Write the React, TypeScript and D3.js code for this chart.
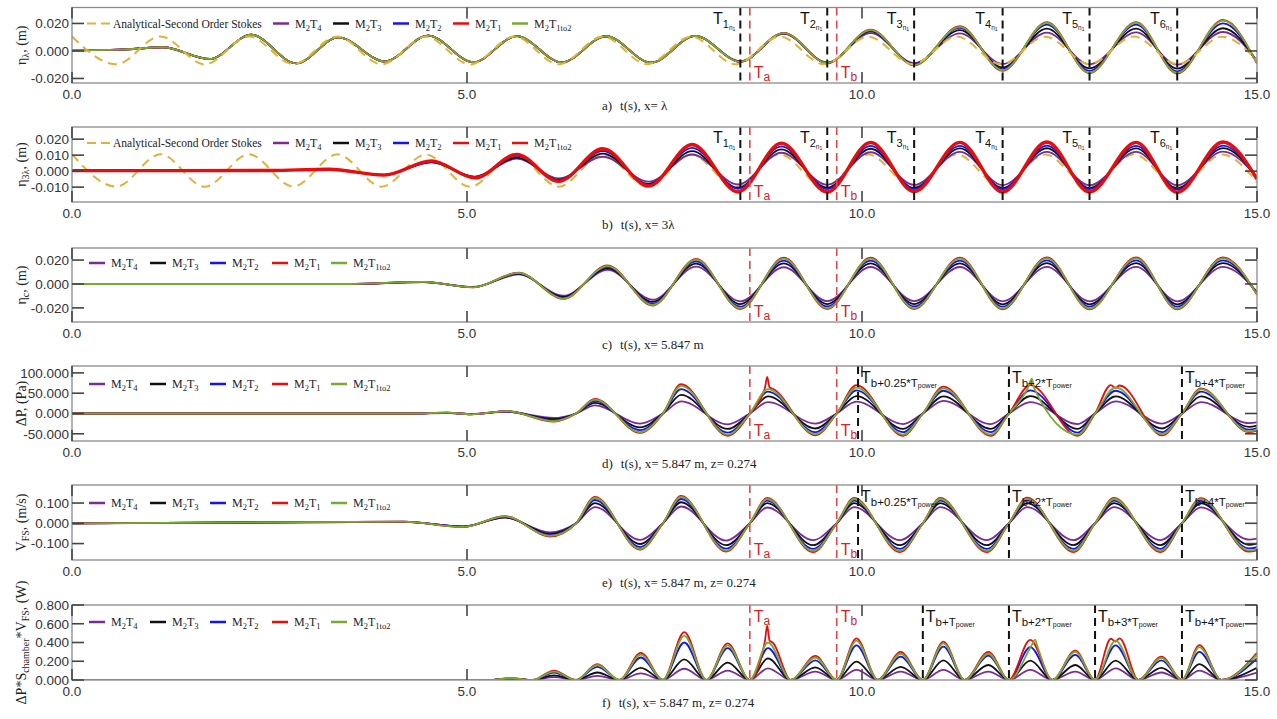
import React from 'react';
import * as d3 from 'd3';

const SANS = '"Liberation Sans", Arial, Helvetica, sans-serif';
const SERIF = '"Liberation Serif", "Times New Roman", Times, serif';

const PLOT_L = 72;
const PLOT_R = 1257;

const PURPLE = '#7b2b93';
const BLACK = '#101010';
const BLUE = '#1414f0';
const RED = '#e50d0d';
const GREEN = '#79aa30';
const GOLD = '#dfb23c';
const MARK_RED = '#e5484a';
const LABEL_RED = '#cf2626';

type Pt = [number, number];

// shared x axis (time, s)
const xTicks = [0, 5, 10, 15];

// vertical marker times
const tnTimes = [8.46, 9.56, 10.66, 11.78, 12.88, 13.99];
const tnLabels = ['1', '2', '3', '4', '5', '6'];
const taTb = [8.58, 9.68];
const taTbLabels = ['a', 'b'];
const powerTimesDE = [9.95, 11.86, 14.05];
const powerLabelsDE = ['b+0.25*T', 'b+2*T', 'b+4*T'];
const powerTimesF = [10.77, 11.86, 12.95, 14.05];
const powerLabelsF = ['b+T', 'b+2*T', 'b+3*T', 'b+4*T'];

// analytical second order Stokes (panels a, b)
const stokesT = [0, 0.56, 1.12, 1.68, 2.24, 2.8, 3.36, 3.92, 4.48, 5.04, 5.6, 6.16, 6.72, 7.28, 7.84, 8.4, 8.96, 9.52, 10.08, 10.64, 11.2, 11.76, 12.32, 12.88, 13.44, 14.0, 14.56, 15.0];
const stokesEta = [0.0105, -0.0097, 0.0106, -0.0098, 0.0105, -0.0096, 0.0105, -0.0097, 0.0104, -0.0098, 0.0105, -0.0097, 0.0105, -0.0096, 0.0104, -0.0097, 0.0105, -0.0097, 0.0104, -0.0096, 0.0105, -0.0097, 0.0104, -0.0096, 0.0105, -0.0097, 0.0104, -0.007];

// a) x = lambda
const tA = [0, 0.6, 1.15, 1.74, 2.27, 2.84, 3.37, 3.96, 4.51, 5.08, 5.63, 6.2, 6.76, 7.33, 7.89, 8.46, 9.01, 9.56, 10.11, 10.66, 11.24, 11.78, 12.34, 12.88, 13.47, 13.99, 14.57, 15];
const aM2T4 = [0.0005, 0.0009, 0.0027, -0.0058, 0.0118, -0.009, 0.0099, -0.0076, 0.0112, -0.0082, 0.0108, -0.0083, 0.0107, -0.0085, 0.0108, -0.0075, 0.0125, -0.0084, 0.013, -0.0088, 0.0128, -0.0095, 0.0133, -0.0097, 0.0135, -0.01, 0.0138, -0.007];
const aM2T3 = [0.0005, 0.0009, 0.0027, -0.0058, 0.0118, -0.009, 0.0099, -0.0076, 0.0112, -0.0082, 0.0108, -0.0083, 0.0107, -0.0085, 0.011, -0.0077, 0.0128, -0.0086, 0.0142, -0.0095, 0.0152, -0.012, 0.0162, -0.0126, 0.0162, -0.0128, 0.0165, -0.008];
const aM2T2 = [0.0005, 0.0009, 0.0027, -0.0058, 0.0118, -0.009, 0.0099, -0.0076, 0.0112, -0.0082, 0.0108, -0.0083, 0.0107, -0.0085, 0.011, -0.0078, 0.013, -0.0088, 0.0148, -0.0098, 0.0168, -0.0132, 0.0192, -0.0145, 0.0192, -0.0148, 0.02, -0.0086];
const aM2T1 = [0.0005, 0.0009, 0.0027, -0.0058, 0.0118, -0.009, 0.0099, -0.0076, 0.0112, -0.0082, 0.0108, -0.0083, 0.0107, -0.0085, 0.011, -0.0079, 0.0132, -0.009, 0.0155, -0.0105, 0.018, -0.0145, 0.021, -0.0162, 0.021, -0.0165, 0.0225, -0.0092];
const aM2T1to2 = [0.0005, 0.0009, 0.0027, -0.0058, 0.0118, -0.009, 0.0099, -0.0076, 0.0112, -0.0082, 0.0108, -0.0083, 0.0107, -0.0085, 0.011, -0.0078, 0.013, -0.0088, 0.0152, -0.0102, 0.0175, -0.014, 0.0205, -0.0158, 0.0205, -0.016, 0.022, -0.009];

// b) x = 3 lambda
const tB = [0, 2.5, 3.25, 3.95, 4.55, 5.1, 5.63, 6.16, 6.72, 7.3, 7.85, 8.43, 8.98, 9.56, 10.11, 10.66, 11.24, 11.78, 12.34, 12.88, 13.47, 13.99, 14.57, 15];
const bM2T4 = [0.0003, 0.0004, 0.0011, -0.0022, 0.0055, -0.0034, 0.0078, -0.0045, 0.009, -0.0066, 0.0104, -0.0083, 0.0115, -0.0085, 0.0118, -0.0086, 0.012, -0.0087, 0.012, -0.0088, 0.012, -0.0088, 0.0122, -0.0038];
const bM2T3 = [0.0003, 0.0004, 0.0011, -0.0023, 0.0057, -0.0036, 0.0085, -0.0054, 0.011, -0.008, 0.0125, -0.0104, 0.0136, -0.0104, 0.014, -0.0105, 0.0142, -0.0106, 0.0143, -0.0106, 0.0142, -0.0107, 0.0144, -0.0042];
const bM2T2 = [0.0003, 0.0004, 0.0012, -0.0024, 0.006, -0.0038, 0.0095, -0.0058, 0.0125, -0.0085, 0.0146, -0.011, 0.0155, -0.0112, 0.0158, -0.0112, 0.0158, -0.0113, 0.016, -0.0113, 0.0158, -0.0114, 0.016, -0.0045];
const bM2T1 = [0.0003, 0.0004, 0.0012, -0.0025, 0.0063, -0.0041, 0.0102, -0.0062, 0.0137, -0.0091, 0.0163, -0.0126, 0.0172, -0.0126, 0.0176, -0.0125, 0.0177, -0.0127, 0.0178, -0.0127, 0.0177, -0.0128, 0.0178, -0.0048];
const bM2T1to2 = [0.0003, 0.0004, 0.0012, -0.0025, 0.0064, -0.0042, 0.0104, -0.0064, 0.014, -0.0094, 0.0167, -0.013, 0.0175, -0.013, 0.018, -0.0128, 0.018, -0.013, 0.0182, -0.013, 0.018, -0.0132, 0.0182, -0.005];

// c) chamber, x = 5.847 m
const tC = [0, 3.5, 4.45, 5.08, 5.65, 6.22, 6.78, 7.35, 7.9, 8.46, 9.01, 9.56, 10.11, 10.66, 11.24, 11.78, 12.34, 12.88, 13.47, 13.99, 14.57, 15];
const cM2T4 = [0, 0, 0.0016, -0.0025, 0.008, -0.0098, 0.0118, -0.0132, 0.0145, -0.0145, 0.014, -0.0143, 0.0142, -0.0143, 0.0142, -0.0145, 0.0143, -0.0145, 0.0143, -0.0145, 0.0143, -0.0065];
const cM2T3 = [0, 0, 0.0016, -0.0026, 0.0085, -0.0108, 0.013, -0.015, 0.017, -0.0168, 0.0172, -0.0168, 0.0173, -0.0168, 0.0173, -0.017, 0.0174, -0.017, 0.0174, -0.017, 0.0174, -0.0075];
const cM2T2 = [0, 0, 0.0017, -0.0027, 0.009, -0.0117, 0.0142, -0.0165, 0.019, -0.019, 0.0195, -0.0188, 0.0196, -0.0188, 0.0196, -0.019, 0.0197, -0.019, 0.0197, -0.019, 0.0197, -0.0082];
const cM2T1 = [0, 0, 0.0017, -0.0028, 0.0095, -0.0125, 0.0155, -0.018, 0.021, -0.021, 0.022, -0.021, 0.022, -0.021, 0.022, -0.0212, 0.0222, -0.0212, 0.0222, -0.0212, 0.0222, -0.009];
const cM2T1to2 = [0, 0, 0.0017, -0.0028, 0.0093, -0.0122, 0.015, -0.0175, 0.0203, -0.0203, 0.0212, -0.0203, 0.0212, -0.0203, 0.0212, -0.0205, 0.0214, -0.0205, 0.0214, -0.0205, 0.0214, -0.0087];

// d) pressure difference
const tD = [0, 4.3, 4.75, 5.05, 5.5, 6.1, 6.62, 7.19, 7.71, 8.3, 8.81, 9.41, 9.93, 10.52, 11.03, 11.63, 12.13, 12.73, 13.21, 13.8, 14.29, 14.9, 15];
const dZero = [6.38, 7.48, 8.58, 9.68, 10.77, 11.86, 12.95, 14.05];
const dM2T4 = [0, 0, 1, -1, 4, -11, 20, -25, 30, -27, 28, -25, 29, -26, 31, -26, 28, -26, 30, -25, 28, -24, -22];
const dM2T3 = [0, 0, 1.5, -1.5, 5, -14, 26, -34, 46, -38, 42, -37, 43, -38, 42, -38, 43, -38, 42, -37, 42, -33, -30];
const dM2T2 = [0, 0, 2, -2, 5, -17, 31, -41, 60, -47, 54, -46, 57, -46, 56, -46, 57, -47, 56, -46, 54, -40, -36];
const dM2T1 = [0, 0, 2, -2, 6, -20, 36, -48, 72, -55, 62, -54, 70, -55, 66, -55, 70, -55, 66, -54, 62, -46, -42];
const dM2T1to2 = [0, 0, 2, -2, 6, -19, 34, -46, 68, -52, 60, -51, 64, -52, 62, -52, 65, -52, 64, -51, 60, -44, -40];
const dM2T1Spikes: Pt[] = [[8.77, 62], [8.8, 90], [8.83, 64], [8.87, 61], [13.15, 70], [13.21, 63], [13.26, 69]];
const dM2T1to2Spikes: Pt[] = [[12.1, 63], [12.15, 86], [12.18, 62]];

// e) free surface velocity
const tE = [0, 4.2, 4.95, 5.48, 6.05, 6.62, 7.19, 7.71, 8.28, 8.8, 9.38, 9.9, 10.48, 10.99, 11.58, 12.09, 12.68, 13.19, 13.78, 14.29, 14.9, 15];
const eZero = [6.38, 7.48, 8.58, 9.68, 10.77, 11.86, 12.95, 14.05];
const eM2T4 = [0, 0.007, -0.015, 0.028, -0.045, 0.08, -0.082, 0.083, -0.085, 0.078, -0.083, 0.08, -0.083, 0.08, -0.083, 0.08, -0.083, 0.08, -0.083, 0.079, -0.08, -0.075];
const eM2T3 = [0, 0.007, -0.016, 0.03, -0.052, 0.1, -0.102, 0.104, -0.108, 0.1, -0.108, 0.1, -0.108, 0.1, -0.108, 0.1, -0.108, 0.1, -0.108, 0.099, -0.106, -0.1];
const eM2T2 = [0, 0.008, -0.017, 0.032, -0.058, 0.115, -0.117, 0.12, -0.125, 0.112, -0.126, 0.112, -0.126, 0.112, -0.126, 0.113, -0.126, 0.112, -0.126, 0.111, -0.124, -0.118];
const eM2T1 = [0, 0.008, -0.018, 0.035, -0.065, 0.13, -0.13, 0.135, -0.14, 0.125, -0.142, 0.125, -0.142, 0.125, -0.142, 0.126, -0.142, 0.125, -0.142, 0.124, -0.14, -0.133];
const eM2T1to2 = [0, 0.008, -0.018, 0.034, -0.062, 0.125, -0.126, 0.13, -0.135, 0.12, -0.136, 0.12, -0.136, 0.12, -0.136, 0.121, -0.136, 0.12, -0.136, 0.119, -0.134, -0.128];

// f) power: peaks between zero touches
const fPeakT = [5.55, 6.1, 6.65, 7.2, 7.75, 8.3, 8.81, 9.41, 9.93, 10.49, 11.03, 11.6, 12.13, 12.7, 13.21, 13.79, 14.27, 15];
const fZero = [0, 5.0, 5.28, 5.83, 6.38, 6.93, 7.48, 8.03, 8.58, 9.1, 9.68, 10.2, 10.77, 11.3, 11.86, 12.41, 12.95, 13.5, 14.05, 14.55];
const fM2T4 = [0.006, 0.03, 0.045, 0.07, 0.12, 0.1, 0.125, 0.09, 0.107, 0.09, 0.107, 0.09, 0.107, 0.09, 0.124, 0.08, 0.1, 0.08];
const fM2T3 = [0.012, 0.05, 0.08, 0.13, 0.22, 0.185, 0.23, 0.135, 0.196, 0.14, 0.21, 0.16, 0.206, 0.16, 0.206, 0.13, 0.17, 0.13];
const fM2T2 = [0.018, 0.08, 0.14, 0.24, 0.4, 0.34, 0.34, 0.21, 0.37, 0.25, 0.356, 0.26, 0.35, 0.267, 0.37, 0.21, 0.3, 0.23];
const fM2T1 = [0.02, 0.1, 0.17, 0.29, 0.51, 0.39, 0.41, 0.256, 0.445, 0.3, 0.41, 0.3, 0.427, 0.313, 0.445, 0.25, 0.373, 0.29];
const fM2T1to2 = [0.02, 0.09, 0.16, 0.27, 0.47, 0.37, 0.4, 0.24, 0.42, 0.28, 0.39, 0.28, 0.4, 0.3, 0.42, 0.235, 0.35, 0.27];
const fM2T1Spikes: Pt[] = [[8.77, 0.41], [8.8, 0.58], [8.83, 0.42], [8.87, 0.4], [13.15, 0.44], [13.21, 0.41], [13.26, 0.445]];
const fM2T1to2Spikes: Pt[] = [[12.16, 0.39], [12.19, 0.43], [12.22, 0.36]];

type Series = { sub: string; color: string; values: number[]; width?: number; extra?: Pt[] };

type PanelCfg = {
  id: string;
  top: number;
  bottom: number;
  yDomain: [number, number];
  yTicks: number[];
  yFormat: string;
  times: number[];
  zeros?: number[];
  series: Series[];
  stokes?: 'below' | 'above';
  legendY: number;
  tn?: boolean;
  redLabel: 'top' | 'bottom';
  power?: { times: number[]; labels: string[] };
  caption: [string, string];
  ylabel: React.ReactNode;
};

function buildPoints(times: number[], values: number[], zeros: number[] = [], extra: Pt[] = []): Pt[] {
  const base: Pt[] = times.map((t, i) => [t, values[i]] as Pt);
  zeros.forEach((t) => base.push([t, 0]));
  const kept = base.filter((p) => !extra.some((e) => Math.abs(e[0] - p[0]) < 0.045));
  return kept.concat(extra).sort((a, b) => a[0] - b[0]);
}

function mk(values: number[], sub: string, color: string, extra?: Pt[], width?: number): Series {
  return { values, sub, color, extra, width };
}

const panels: PanelCfg[] = [
  {
    id: 'a', top: 7.5, bottom: 83, yDomain: [-0.0233, 0.0316], yTicks: [-0.02, 0, 0.02], yFormat: '.3f',
    times: tA,
    series: [mk(aM2T4, '4', PURPLE), mk(aM2T3, '3', BLACK), mk(aM2T2, '2', BLUE), mk(aM2T1, '1', RED), mk(aM2T1to2, '1to2', GREEN)],
    stokes: 'above', legendY: 23.5, tn: true, redLabel: 'bottom',
    caption: ['a)', 't(s), x= λ'],
    ylabel: (<><tspan>η</tspan><tspan fontSize={10} dy={3}>λ</tspan><tspan dy={-3}>,  (m)</tspan></>),
  },
  {
    id: 'b', top: 127, bottom: 202, yDomain: [-0.0193, 0.0276], yTicks: [-0.01, 0, 0.01, 0.02], yFormat: '.3f',
    times: tB,
    series: [mk(bM2T4, '4', PURPLE), mk(bM2T3, '3', BLACK), mk(bM2T2, '2', BLUE), mk(bM2T1, '1', RED), mk(bM2T1to2, '1to2', RED, undefined, 3.4)],
    stokes: 'below', legendY: 143, tn: true, redLabel: 'bottom',
    caption: ['b)', 't(s), x= 3λ'],
    ylabel: (<><tspan>η</tspan><tspan fontSize={10} dy={3}>3λ</tspan><tspan dy={-3}>,  (m)</tspan></>),
  },
  {
    id: 'c', top: 248, bottom: 322, yDomain: [-0.0318, 0.0301], yTicks: [-0.02, 0, 0.02], yFormat: '.3f',
    times: tC,
    series: [mk(cM2T4, '4', PURPLE), mk(cM2T3, '3', BLACK), mk(cM2T2, '2', BLUE), mk(cM2T1, '1', RED), mk(cM2T1to2, '1to2', GREEN)],
    legendY: 263, redLabel: 'bottom',
    caption: ['c)', 't(s), x= 5.847 m'],
    ylabel: (<><tspan>η</tspan><tspan fontSize={10} dy={3}>c</tspan><tspan dy={-3}>,  (m)</tspan></>),
  },
  {
    id: 'd', top: 366, bottom: 441, yDomain: [-67.8, 117], yTicks: [-50, 0, 50, 100], yFormat: '.3f',
    times: tD, zeros: dZero,
    series: [mk(dM2T4, '4', PURPLE), mk(dM2T3, '3', BLACK), mk(dM2T2, '2', BLUE), mk(dM2T1, '1', RED, dM2T1Spikes), mk(dM2T1to2, '1to2', GREEN, dM2T1to2Spikes)],
    legendY: 384, redLabel: 'bottom', power: { times: powerTimesDE, labels: powerLabelsDE },
    caption: ['d)', 't(s), x= 5.847 m, z= 0.274'],
    ylabel: (<><tspan>ΔP,  (Pa)</tspan></>),
  },
  {
    id: 'e', top: 485, bottom: 560, yDomain: [-0.181, 0.189], yTicks: [-0.1, 0, 0.1], yFormat: '.3f',
    times: tE, zeros: eZero,
    series: [mk(eM2T4, '4', PURPLE), mk(eM2T3, '3', BLACK), mk(eM2T2, '2', BLUE), mk(eM2T1, '1', RED), mk(eM2T1to2, '1to2', GREEN)],
    legendY: 503, redLabel: 'bottom', power: { times: powerTimesDE, labels: powerLabelsDE },
    caption: ['e)', 't(s), x= 5.847 m, z= 0.274'],
    ylabel: (<><tspan>V</tspan><tspan fontSize={10} dy={3}>FS</tspan><tspan dy={-3}>,  (m/s)</tspan></>),
  },
  {
    id: 'f', top: 605, bottom: 680, yDomain: [0, 0.8], yTicks: [0, 0.2, 0.4, 0.6, 0.8], yFormat: '.3f',
    times: fPeakT, zeros: fZero,
    series: [mk(fM2T4, '4', PURPLE), mk(fM2T3, '3', BLACK), mk(fM2T2, '2', BLUE), mk(fM2T1, '1', RED, fM2T1Spikes), mk(fM2T1to2, '1to2', GREEN, fM2T1to2Spikes)],
    legendY: 622, redLabel: 'top', power: { times: powerTimesF, labels: powerLabelsF },
    caption: ['f)', 't(s), x= 5.847 m, z= 0.274'],
    ylabel: (<><tspan>ΔP*S</tspan><tspan fontSize={10} dy={3}>chamber</tspan><tspan dy={-3}>*V</tspan><tspan fontSize={10} dy={3}>FS</tspan><tspan dy={-3}>,  (W)</tspan></>),
  },
];

const legendXStokes = [273, 333, 393, 453, 512];
const legendXPlain = [89, 150, 210, 272, 331];

function MLabel({ x, y, sub }: { x: number; y: number; sub: string }) {
  return (
    <text x={x} y={y} fontFamily={SERIF} fontSize={12} fill="#222">
      M<tspan fontSize={8.5} dy={3}>2</tspan>
      <tspan dy={-3}>T</tspan>
      <tspan fontSize={8.5} dy={3}>{sub}</tspan>
    </text>
  );
}

function Panel({ p }: { p: PanelCfg }) {
  const x = d3.scaleLinear().domain([0, 15]).range([PLOT_L, PLOT_R]);
  const y = d3.scaleLinear().domain(p.yDomain).range([p.bottom, p.top]);
  const line = d3.line<Pt>().x((d) => x(d[0])).y((d) => y(d[1])).curve(d3.curveMonotoneX);
  const fmtY = (v: number) => d3.format(p.yFormat)(v).replace('−', '-');
  const fmtX = d3.format('.1f');
  const clipId = `clip-${p.id}`;
  const lx = p.stokes ? legendXStokes : legendXPlain;

  const stokesPath = p.stokes ? (
    <path d={line(buildPoints(stokesT, stokesEta)) || ''} fill="none" stroke={GOLD} strokeWidth={2} strokeDasharray="9,6" />
  ) : null;

  return (
    <g>
      <defs>
        <clipPath id={clipId}>
          <rect x={PLOT_L} y={p.top} width={PLOT_R - PLOT_L} height={p.bottom - p.top} />
        </clipPath>
      </defs>
      <g clipPath={`url(#${clipId})`}>
        {p.stokes === 'below' && stokesPath}
        {p.series.map((s) => (
          <path
            key={s.sub + s.color}
            d={line(buildPoints(p.times, s.values, p.zeros, s.extra)) || ''}
            fill="none"
            stroke={s.color}
            strokeWidth={s.width ?? 1.8}
            strokeLinejoin="round"
          />
        ))}
        {p.stokes === 'above' && stokesPath}
        {p.tn && tnTimes.map((t) => (
          <line key={'tn' + t} x1={x(t)} x2={x(t)} y1={p.top} y2={p.bottom} stroke="#111" strokeWidth={2} strokeDasharray="8,5" />
        ))}
        {p.power && p.power.times.map((t) => (
          <line key={'pw' + t} x1={x(t)} x2={x(t)} y1={p.top} y2={p.bottom} stroke="#111" strokeWidth={2} strokeDasharray="8,5" />
        ))}
        {taTb.map((t) => (
          <line key={'r' + t} x1={x(t)} x2={x(t)} y1={p.top} y2={p.bottom} stroke={MARK_RED} strokeWidth={1.6} strokeDasharray="8,5" />
        ))}
      </g>

      {/* frame and ticks */}
      <rect x={PLOT_L} y={p.top} width={PLOT_R - PLOT_L} height={p.bottom - p.top} fill="none" stroke="#8a8a8a" strokeWidth={1.3} />
      {p.yTicks.map((v) => (
        <g key={'yt' + v}>
          <line x1={PLOT_L} x2={PLOT_L + 12} y1={y(v)} y2={y(v)} stroke="#444" strokeWidth={1.6} />
          <line x1={PLOT_R - 12} x2={PLOT_R} y1={y(v)} y2={y(v)} stroke="#444" strokeWidth={1.6} />
          <text x={69} y={y(v)} dy="0.36em" textAnchor="end" fontFamily={SANS} fontSize={13.5} fill="#333">
            {fmtY(v)}
          </text>
        </g>
      ))}
      {xTicks.map((t) => (
        <g key={'xt' + t}>
          <line x1={x(t)} x2={x(t)} y1={p.bottom} y2={p.bottom - 11} stroke="#444" strokeWidth={1.6} />
          <line x1={x(t)} x2={x(t)} y1={p.top} y2={p.top + 11} stroke="#444" strokeWidth={1.6} />
          <text x={x(t)} y={p.bottom + 16} textAnchor="middle" fontFamily={SANS} fontSize={13.5} fill="#333">
            {fmtX(t)}
          </text>
        </g>
      ))}

      {/* marker labels */}
      {p.tn && tnTimes.map((t, i) => (
        <text key={'tnl' + t} x={x(t) - 5} y={p.top + 16} textAnchor="end" fontFamily={SANS} fill="#111">
          <tspan fontSize={16}>T</tspan>
          <tspan fontSize={11} dy={4}>{tnLabels[i]}</tspan>
          <tspan fontSize={6.5} dy={2}>n</tspan>
          <tspan fontSize={5} dy={1}>1</tspan>
        </text>
      ))}
      {p.power && p.power.times.map((t, i) => (
        <text key={'pwl' + t} x={x(t) + 3} y={p.top + 17} fontFamily={SANS} fill="#111">
          <tspan fontSize={16}>T</tspan>
          <tspan fontSize={11.5} dy={4}>{p.power!.labels[i]}</tspan>
          <tspan fontSize={7} dy={1}>power</tspan>
        </text>
      ))}
      {taTb.map((t, i) => (
        <text key={'rl' + t} x={x(t) + 4} y={p.redLabel === 'top' ? p.top + 17 : p.bottom - 5} fontFamily={SANS} fill={LABEL_RED}>
          <tspan fontSize={16}>T</tspan>
          <tspan fontSize={12} dy={3}>{taTbLabels[i]}</tspan>
        </text>
      ))}

      {/* legend */}
      {p.stokes && (
        <g>
          <line x1={87} x2={110} y1={p.legendY} y2={p.legendY} stroke={GOLD} strokeWidth={2.2} strokeDasharray="9,5" />
          <text x={113} y={p.legendY + 4} fontFamily={SERIF} fontSize={11.5} fill="#222">Analytical-Second Order Stokes</text>
        </g>
      )}
      {p.series.map((s, i) => (
        <g key={'lg' + i}>
          <line x1={lx[i]} x2={lx[i] + 16} y1={p.legendY} y2={p.legendY} stroke={s.color} strokeWidth={2.5} />
          <MLabel x={lx[i] + 22} y={p.legendY + 4} sub={s.sub} />
        </g>
      ))}

      {/* caption and y label */}
      <text x={602} y={p.bottom + 27} fontFamily={SERIF} fontSize={13} fill="#222">
        {p.caption[0]}
        <tspan dx={8}>{p.caption[1]}</tspan>
      </text>
      <text
        transform={`translate(26,${(p.top + p.bottom) / 2}) rotate(-90)`}
        textAnchor="middle"
        fontFamily={SERIF}
        fontSize={14}
        fill="#222"
      >
        {p.ylabel}
      </text>
    </g>
  );
}

export default function App() {
  return (
    <svg
      width={1277}
      height={719}
      style={{ position: 'absolute', left: 0, top: 0, background: '#fff', display: 'block' }}
    >
      <rect width={1277} height={719} fill="#fff" />
      {panels.map((p) => (
        <Panel key={p.id} p={p} />
      ))}
    </svg>
  );
}
